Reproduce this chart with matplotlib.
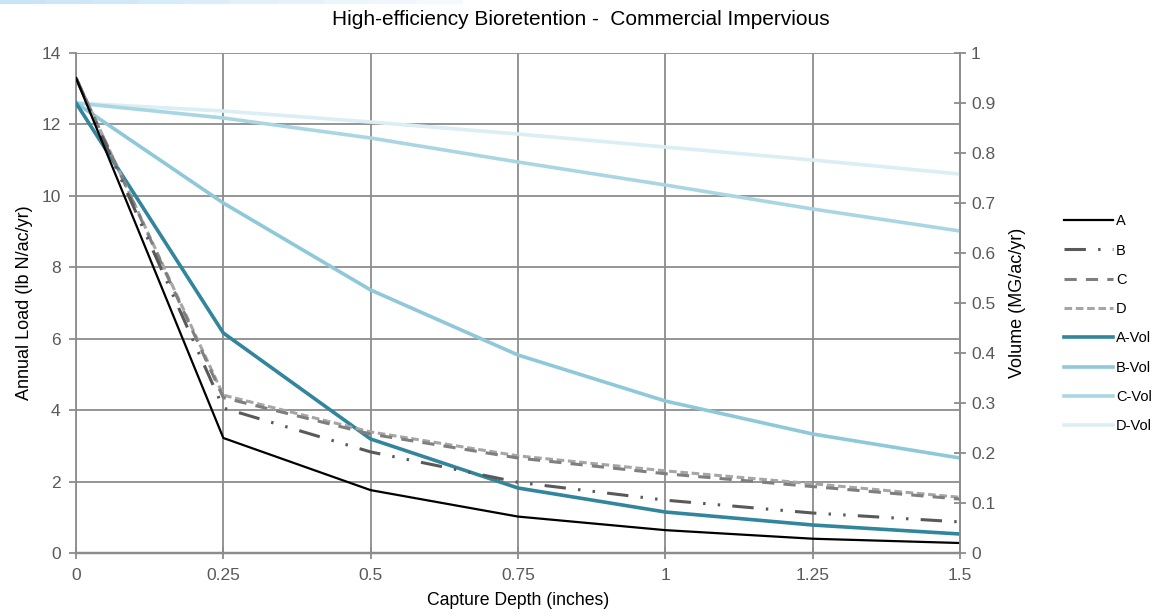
import matplotlib
matplotlib.use("Agg")
import matplotlib.pyplot as plt
from matplotlib.lines import Line2D

plt.rcParams["font.family"] = ["Liberation Sans", "DejaVu Sans"]

depth = [0, 0.25, 0.5, 0.75, 1.0, 1.25, 1.5]

# annual load (lb N/ac/yr), left axis
loadA = [13.3, 3.22, 1.76, 1.02, 0.64, 0.40, 0.28]
loadB = [13.3, 4.06, 2.83, 1.98, 1.48, 1.12, 0.87]
loadC = [13.3, 4.35, 3.33, 2.66, 2.22, 1.86, 1.51]
loadD = [13.3, 4.42, 3.39, 2.72, 2.30, 1.94, 1.56]

# volume (MG/ac/yr), right axis
volA = [0.90, 0.44, 0.228, 0.130, 0.082, 0.056, 0.038]
volB = [0.90, 0.70, 0.526, 0.396, 0.304, 0.238, 0.190]
volC = [0.90, 0.87, 0.830, 0.782, 0.736, 0.688, 0.644]
volD = [0.90, 0.884, 0.862, 0.838, 0.812, 0.786, 0.758]

xticks = [0, 0.25, 0.5, 0.75, 1, 1.25, 1.5]
xticklabels = ["0", "0.25", "0.5", "0.75", "1", "1.25", "1.5"]

grid_c = "#8c8c8c"
tick_c = "#595959"

fig = plt.figure(figsize=(11.57, 6.15), dpi=100)
ax = fig.add_axes([0.0657, 0.1008, 0.764, 0.813])
ax2 = ax.twinx()

ax.set_xlim(0, 1.5)
ax.set_ylim(0, 14)
ax2.set_ylim(0, 1)
ax.set_xticks(xticks)
ax.set_xticklabels(xticklabels)
ax.set_yticks(range(0, 15, 2))
ax2.set_yticks([i / 10 for i in range(11)])
ax2.set_yticklabels(["0", "0.1", "0.2", "0.3", "0.4", "0.5", "0.6", "0.7", "0.8", "0.9", "1"])

ax.grid(True, color=grid_c, linewidth=1.3)
ax.set_axisbelow(True)
for a in (ax, ax2):
    for s in ("top", "left"):
        a.spines[s].set_visible(False)
    a.spines["bottom"].set_color(grid_c)
    a.spines["bottom"].set_linewidth(1.6)
    a.spines["right"].set_color(grid_c)
    a.spines["right"].set_linewidth(1.3)
ax.spines["left"].set_visible(True)
ax.spines["left"].set_color(grid_c)
ax.spines["left"].set_linewidth(1.3)

ax.tick_params(axis="x", direction="inout", length=8, color=grid_c, width=1.3,
               labelsize=12.5, labelcolor=tick_c, pad=7)
ax.tick_params(axis="y", direction="out", length=5, color=grid_c, width=1.3,
               labelsize=12.5, labelcolor=tick_c, pad=6)
ax2.tick_params(axis="y", direction="inout", length=8, color=grid_c, width=1.3,
                labelsize=12.5, labelcolor=tick_c, pad=4)

ax.set_xlabel("Capture Depth (inches)", fontsize=12.7, labelpad=6)
ax.set_ylabel("Annual Load (lb N/ac/yr)", fontsize=13, labelpad=6)
ax2.set_ylabel("Volume (MG/ac/yr)", fontsize=13, labelpad=10)

# volume lines first (underneath)
lvD, = ax2.plot(depth, volD, color="#daeef3", lw=2.6, label="D-Vol")
lvC, = ax2.plot(depth, volC, color="#a9d6e2", lw=2.6, label="C-Vol")
lvB, = ax2.plot(depth, volB, color="#8ec8d9", lw=2.6, label="B-Vol")
lvA, = ax2.plot(depth, volA, color="#31859c", lw=2.6, label="A-Vol")

lD, = ax2.plot(depth, [v / 14 for v in loadD], color="#a6a6a6", lw=2.2,
               dashes=(2.5, 1.2), label="D")
lC, = ax2.plot(depth, [v / 14 for v in loadC], color="#7f7f7f", lw=2.2,
               dashes=(4, 3), label="C")
lB, = ax2.plot(depth, [v / 14 for v in loadB], color="#595959", lw=2.2,
               dashes=(7, 4, 0.8, 4, 0.8, 4), label="B")
lA, = ax2.plot(depth, [v / 14 for v in loadA], color="black", lw=1.6, label="A")

handles = [lA, lB, lC, lD, lvA, lvB, lvC, lvD]
fig.legend(handles, [h.get_label() for h in handles], loc="upper left",
           bbox_to_anchor=(0.908, 0.673), frameon=False, fontsize=10.5,
           handlelength=3.4, handletextpad=0.2, labelspacing=1.05)

fig.text(0.502, 0.969, "High-efficiency Bioretention -  Commercial Impervious",
         ha="center", va="center", fontsize=15)

# faint blue band along the top edge, fading to the right
for i in range(10):
    fig.add_artist(Line2D([i * 0.04, (i + 1) * 0.04], [0.997, 0.997],
                          color="#c9e4f6", alpha=1 - i * 0.09, lw=3,
                          solid_capstyle="butt", transform=fig.transFigure))

fig.savefig("out.png", dpi=100)
